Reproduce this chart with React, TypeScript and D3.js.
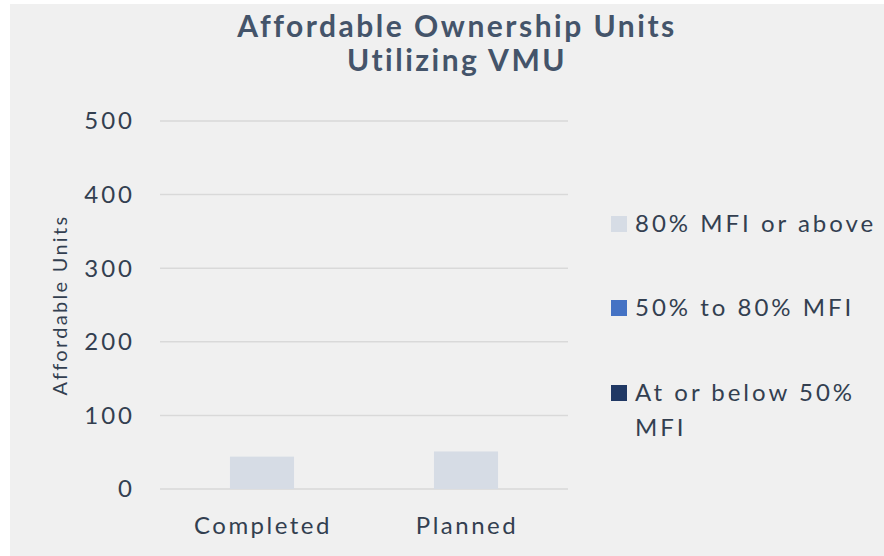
import React from "react";
import * as d3 from "d3";

const categories = ["Completed", "Planned"];
const seriesNames = ["80% MFI or above", "50% to 80% MFI", "At or below 50% MFI"];
const seriesColors = ["#d6dce5", "#4472c4", "#203864"];
const above80 = [44, 51];
const from50to80 = [0, 0];
const below50 = [0, 0];
const yTicks = [0, 100, 200, 300, 400, 500];
const titleLines = ["Affordable Ownership Units", "Utilizing VMU"];

const W = 884;
const H = 556;
const FONT = "Lato, 'Open Sans', sans-serif";
const TEXT = "#333f50";

export default function App() {
  const x = d3.scaleBand<string>().domain(categories).range([160, 568]).paddingInner(0.686).paddingOuter(0.343);
  const y = d3.scaleLinear().domain([0, 500]).range([489, 121]);
  const data = categories.map((c, i) => ({ c, vals: [above80[i], from50to80[i], below50[i]] }));
  const stack = d3.stack<any>().keys(["0", "1", "2"]).value((d: any, k: string) => d.vals[+k]);
  const stacked = stack(data as any);
  const legendY = [224, 308, 393];
  return (
    <svg width={W} height={H} style={{ position: "absolute", left: 0, top: 0 }} fontFamily={FONT}>
      <rect x={0} y={0} width={W} height={H} fill="#ffffff" />
      <rect x={10} y={4} width={W - 10} height={H - 4} fill="#f0f0f0" />
      {titleLines.map((t, i) => (
        <text key={t} x={457} y={37 + i * 34} textAnchor="middle" fontSize={30} fontWeight={700} letterSpacing={2.5} fill="#44546a">
          {t}
        </text>
      ))}
      {yTicks.map((t) => (
        <g key={t}>
          <line x1={160} x2={568} y1={y(t)} y2={y(t)} stroke="#d9d9d9" strokeWidth={1.5} />
          <text x={135} y={y(t)} dy="0.35em" textAnchor="end" fontSize={24} letterSpacing={3} fill={TEXT}>
            {t}
          </text>
        </g>
      ))}
      <text transform={`translate(67,305) rotate(-90)`} textAnchor="middle" fontSize={20} letterSpacing={2.3} fill={TEXT}>
        Affordable Units
      </text>
      {stacked.map((s, si) =>
        s.map((d: any, i: number) => (
          <rect
            key={si + "-" + i}
            x={x(categories[i])}
            width={x.bandwidth()}
            y={y(d[1])}
            height={Math.max(0, y(d[0]) - y(d[1]))}
            fill={seriesColors[si]}
          />
        ))
      )}
      {categories.map((c) => (
        <text key={c} x={(x(c) as number) + x.bandwidth() / 2 + 1} y={534} textAnchor="middle" fontSize={24} letterSpacing={2.5} fill={TEXT}>
          {c}
        </text>
      ))}
      {seriesNames.map((n, i) => (
        <g key={n}>
          <rect x={611} y={legendY[i] - 8} width={16} height={16} fill={seriesColors[i]} />
          {i < 2 ? (
            <text x={635} y={legendY[i]} dy="0.35em" fontSize={24} letterSpacing={3} fill={TEXT}>
              {n}
            </text>
          ) : (
            <text x={635} y={legendY[i]} dy="0.35em" fontSize={24} letterSpacing={3} fill={TEXT}>
              <tspan x={635}>At or below 50%</tspan>
              <tspan x={635} dy={35}>MFI</tspan>
            </text>
          )}
        </g>
      ))}
    </svg>
  );
}
